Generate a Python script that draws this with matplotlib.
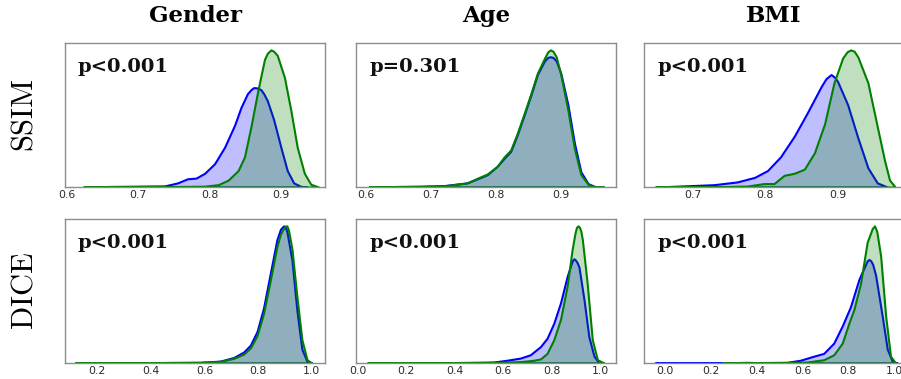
import matplotlib
matplotlib.use('Agg')
import matplotlib.pyplot as plt
from matplotlib.ticker import MultipleLocator

# ---------------- data (density curves) ----------------
columns = ['Gender', 'Age', 'BMI']
rows = ['SSIM', 'DICE']
p_labels = [['p<0.001', 'p=0.301', 'p<0.001'],
            ['p<0.001', 'p<0.001', 'p<0.001']]

# SSIM / Gender
ssim_gender_x_a = [0.623, 0.66, 0.70, 0.737, 0.755, 0.769, 0.781, 0.793, 0.807, 0.821, 0.835,
                   0.844, 0.853, 0.858, 0.862, 0.867, 0.872, 0.876, 0.881, 0.890, 0.900,
                   0.909, 0.918, 0.928, 0.937]
ssim_gender_a = [0.0, 0.004, 0.006, 0.008, 0.03, 0.06, 0.065, 0.10, 0.17, 0.29, 0.45,
                 0.58, 0.68, 0.71, 0.725, 0.722, 0.71, 0.68, 0.63, 0.49, 0.29,
                 0.12, 0.03, 0.005, 0.0]
ssim_gender_x_b = [0.623, 0.70, 0.76, 0.793, 0.812, 0.826, 0.840, 0.849, 0.858, 0.868, 0.877,
                   0.881, 0.886, 0.890, 0.895, 0.905, 0.914, 0.923, 0.933, 0.942, 0.953]
ssim_gender_b = [0.0, 0.002, 0.004, 0.006, 0.017, 0.05, 0.12, 0.22, 0.44, 0.71, 0.93,
                 0.975, 1.0, 0.99, 0.96, 0.80, 0.56, 0.29, 0.10, 0.02, 0.0]

# SSIM / Age
ssim_age_x_a = [0.605, 0.65, 0.684, 0.72, 0.756, 0.777, 0.787, 0.802, 0.813, 0.823, 0.833,
                0.844, 0.854, 0.864, 0.875, 0.880, 0.884, 0.888, 0.893, 0.900, 0.911,
                0.921, 0.931, 0.942, 0.952, 0.966]
ssim_age_a = [0.0, 0.004, 0.006, 0.01, 0.03, 0.07, 0.09, 0.15, 0.21, 0.26, 0.38,
              0.53, 0.67, 0.82, 0.92, 0.945, 0.95, 0.945, 0.92, 0.83, 0.60,
              0.32, 0.11, 0.025, 0.004, 0.0]
ssim_age_x_b = ssim_age_x_a
ssim_age_b = [0.0, 0.003, 0.004, 0.008, 0.03, 0.075, 0.095, 0.15, 0.22, 0.27, 0.39,
              0.54, 0.68, 0.83, 0.94, 0.985, 1.0, 0.99, 0.95, 0.82, 0.56,
              0.28, 0.09, 0.02, 0.004, 0.0]

# SSIM / BMI
ssim_bmi_x_a = [0.648, 0.683, 0.729, 0.761, 0.785, 0.803, 0.821, 0.840, 0.858, 0.877, 0.884,
                0.891, 0.896, 0.900, 0.914, 0.928, 0.942, 0.955, 0.969]
ssim_bmi_a = [0.0, 0.007, 0.017, 0.037, 0.07, 0.12, 0.22, 0.37, 0.54, 0.73, 0.79,
              0.82, 0.80, 0.77, 0.60, 0.36, 0.14, 0.03, 0.0]
ssim_bmi_x_b = [0.648, 0.738, 0.775, 0.798, 0.812, 0.826, 0.840, 0.854, 0.868, 0.882, 0.895,
                0.907, 0.913, 0.918, 0.923, 0.928, 0.942, 0.955, 0.965, 0.972, 0.979]
ssim_bmi_b = [0.0, 0.003, 0.007, 0.025, 0.025, 0.085, 0.10, 0.13, 0.25, 0.46, 0.76,
              0.94, 0.985, 1.0, 0.99, 0.95, 0.76, 0.44, 0.195, 0.05, 0.005]

# DICE / Gender
dice_gender_x_a = [0.119, 0.212, 0.40, 0.585, 0.659, 0.709, 0.746, 0.771, 0.796, 0.820, 0.845,
                   0.870, 0.883, 0.895, 0.901, 0.907, 0.926, 0.944, 0.963, 0.982, 1.0]
dice_gender_a = [0.0, 0.002, 0.003, 0.005, 0.014, 0.04, 0.08, 0.13, 0.23, 0.40, 0.65,
                 0.90, 0.975, 1.0, 0.99, 0.96, 0.75, 0.39, 0.10, 0.012, 0.0]
dice_gender_x_b = [0.119, 0.212, 0.40, 0.585, 0.659, 0.709, 0.746, 0.771, 0.796, 0.820, 0.845,
                   0.870, 0.883, 0.895, 0.901, 0.907, 0.913, 0.926, 0.944, 0.963, 0.982, 1.0]
dice_gender_b = [0.0, 0.002, 0.003, 0.005, 0.012, 0.034, 0.065, 0.11, 0.20, 0.36, 0.60,
                 0.85, 0.94, 0.985, 0.998, 1.0, 0.97, 0.83, 0.49, 0.17, 0.024, 0.0]

# DICE / Age
dice_age_x_a = [0.04, 0.20, 0.394, 0.56, 0.615, 0.671, 0.712, 0.754, 0.781, 0.809, 0.837,
                0.864, 0.885, 0.892, 0.899, 0.906, 0.913, 0.934, 0.954, 0.975, 0.996]
dice_age_a = [0.001, 0.003, 0.003, 0.007, 0.02, 0.036, 0.06, 0.12, 0.18, 0.29, 0.44,
              0.63, 0.745, 0.76, 0.75, 0.73, 0.70, 0.46, 0.19, 0.05, 0.0]
dice_age_x_b = [0.04, 0.30, 0.52, 0.671, 0.726, 0.754, 0.781, 0.809, 0.837, 0.864, 0.885,
                0.897, 0.903, 0.909, 0.915, 0.921, 0.927, 0.947, 0.968, 0.989, 1.017]
dice_age_b = [0.0, 0.002, 0.003, 0.01, 0.02, 0.03, 0.07, 0.17, 0.32, 0.56, 0.83,
              0.95, 0.99, 1.0, 0.99, 0.96, 0.90, 0.58, 0.17, 0.024, 0.0]

# DICE / BMI
dice_bmi_x_a = [-0.044, 0.095, 0.387, 0.533, 0.591, 0.65, 0.693, 0.737, 0.774, 0.81, 0.847,
                0.883, 0.891, 0.899, 0.907, 0.92, 0.949, 0.971, 0.993, 1.015]
dice_bmi_a = [0.0, 0.003, 0.003, 0.005, 0.02, 0.05, 0.07, 0.145, 0.27, 0.41, 0.61,
              0.745, 0.755, 0.745, 0.72, 0.64, 0.34, 0.10, 0.012, 0.0]
dice_bmi_x_b = [0.25, 0.285, 0.358, 0.42, 0.504, 0.62, 0.693, 0.737, 0.774, 0.803, 0.825,
                0.854, 0.883, 0.905, 0.915, 0.925, 0.942, 0.964, 0.985, 1.007]
dice_bmi_b = [0.0, 0.002, 0.005, 0.002, 0.003, 0.007, 0.024, 0.06, 0.145, 0.29, 0.39,
              0.58, 0.88, 0.98, 1.0, 0.96, 0.78, 0.34, 0.05, 0.0]

panels = [
    [(ssim_gender_x_a, ssim_gender_a, ssim_gender_x_b, ssim_gender_b),
     (ssim_age_x_a, ssim_age_a, ssim_age_x_b, ssim_age_b),
     (ssim_bmi_x_a, ssim_bmi_a, ssim_bmi_x_b, ssim_bmi_b)],
    [(dice_gender_x_a, dice_gender_a, dice_gender_x_b, dice_gender_b),
     (dice_age_x_a, dice_age_a, dice_age_x_b, dice_age_b),
     (dice_bmi_x_a, dice_bmi_a, dice_bmi_x_b, dice_bmi_b)],
]

# ---------------- layout / style ----------------
xlims = [[(0.597, 0.962), (0.585, 0.985), (0.632, 0.992)],
         [(0.081, 1.049), (-0.008, 1.066), (-0.092, 1.044)]]
tick_steps = [0.1, 0.2]

plt.rcParams['mathtext.fontset'] = 'cm'
plt.rcParams['font.family'] = 'DejaVu Sans'

W, H = 901, 379
fig = plt.figure(figsize=(W / 100, H / 100), dpi=100)
col_left = [65, 356, 644]
row_top = [43, 219]
aw, ah = 260, 144

color_a = 'blue'
color_b = 'green'
spine_color = '#8c8c8c'

for r in range(2):
    for c in range(3):
        ax = fig.add_axes([col_left[c] / W, (H - row_top[r] - ah) / H, aw / W, ah / H])
        xa, ya, xb, yb = panels[r][c]
        ax.fill_between(xa, ya, facecolor=(0, 0, 1, 0.25), edgecolor=color_a, linewidth=1.5)
        ax.fill_between(xb, yb, facecolor=(0, 0.5, 0, 0.25), edgecolor=color_b, linewidth=1.5)
        ax.set_xlim(*xlims[r][c])
        ax.set_ylim(0, 1.05)
        ax.set_yticks([])
        ax.xaxis.set_major_locator(MultipleLocator(tick_steps[r]))
        ax.tick_params(axis='x', length=0, pad=2, labelsize=7.8, labelcolor='#2a2a2a')
        for sp in ax.spines.values():
            sp.set_color(spine_color)
            sp.set_linewidth(1.0)
        ax.text(0.05, 0.895, p_labels[r][c], transform=ax.transAxes,
                fontsize=14, fontfamily='DejaVu Serif', fontweight='bold',
                va='top', ha='left', color='#111111')
        if r == 0:
            ax.set_title(columns[c], fontsize=16.5, fontfamily='DejaVu Serif',
                         fontweight='bold', pad=15)

for r in range(2):
    yc = (H - row_top[r] - ah / 2) / H
    fig.text(24 / W, yc, r'$\mathrm{' + rows[r] + '}$', rotation=90, fontsize=22,
             va='center', ha='center')

fig.savefig('out.png', dpi=100)
